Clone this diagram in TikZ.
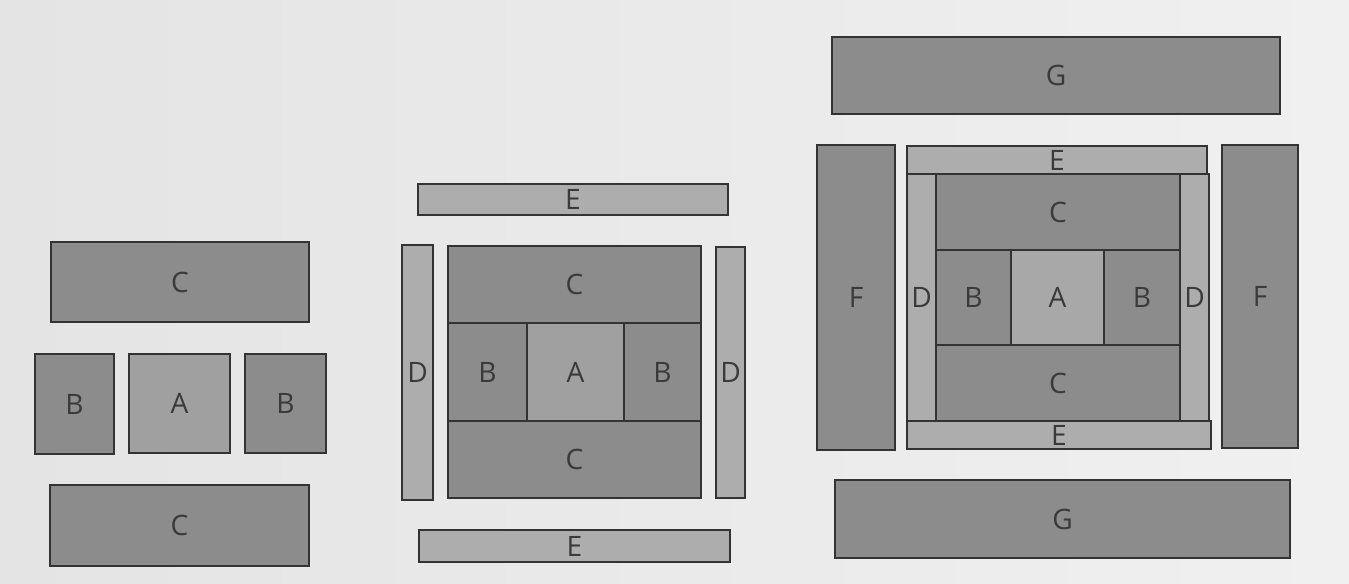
\documentclass[tikz,border=0pt]{standalone}
\usepackage{fontspec}
\setmainfont{Open Sans}
\usepackage{tikz}

\definecolor{paper}{HTML}{E4E4E4}
\definecolor{paperlight}{HTML}{F0F0F0}
\definecolor{darkpiece}{HTML}{8C8C8C}
\definecolor{midpiece}{HTML}{A0A0A0}
\definecolor{lightpiece}{HTML}{ADADAD}
\definecolor{edge}{HTML}{333333}
\definecolor{letter}{HTML}{3A3A3A}

\tikzset{
  dark/.style={fill=darkpiece, draw=edge, line width=0.6pt},
  mid/.style={fill=midpiece, draw=edge, line width=0.6pt},
  light/.style={fill=lightpiece, draw=edge, line width=0.6pt},
  tag/.style={text=letter, font=\fontsize{16}{16}\selectfont, inner sep=0pt}
}

\begin{document}
\begin{tikzpicture}[x=0.02cm, y=-0.02cm]
	\shade[left color=paper, right color=paperlight] (0,0) rectangle (1349,583);
	\useasboundingbox (0,0) rectangle (1349,583);
	% pieces laid out apart
	\begin{scope}
		\draw[dark] (51,242) rectangle (309,322) node[midway, tag] (c1) {C};
		\draw[dark] (35,354) rectangle (114,454) node[midway, tag] (b1) {B};
		\draw[mid] (129,354) rectangle (230,453) node[midway, tag] (a1) {A};
		\draw[dark] (245,354) rectangle (326,453) node[midway, tag] (b2) {B};
		\draw[dark] (50,485) rectangle (309,566) node[midway, tag] (c2) {C};
	\end{scope}
	% centre sewn, first border apart
	\begin{scope}
		\draw[light] (418,184) rectangle (728,215) node[midway, tag] (e1) {E};
		\draw[light] (402,245) rectangle (433,500) node[midway, tag] (d1) {D};
		\draw[dark] (448,246) rectangle (701,323) node[midway, tag] (c3) {C};
		\draw[dark] (448,323) rectangle (527,421) node[midway, tag] (b3) {B};
		\draw[mid] (527,323) rectangle (624,421) node[midway, tag] (a2) {A};
		\draw[dark] (624,323) rectangle (701,421) node[midway, tag] (b4) {B};
		\draw[dark] (448,421) rectangle (701,498) node[midway, tag] (c4) {C};
		\draw[light] (716,247) rectangle (745,498) node[midway, tag] (d2) {D};
		\draw[light] (419,530) rectangle (730,562) node[midway, tag] (e2) {E};
	\end{scope}
	% first border sewn, second border apart
	\begin{scope}
		\draw[dark] (832,37) rectangle (1280,114) node[midway, tag] (g1) {G};
		\draw[dark] (817,145) rectangle (895,450) node[midway, tag] (f1) {F};
		\draw[light] (907,146) rectangle (1207,174) node[midway, tag] (e3) {E};
		\draw[light] (907,174) rectangle (936,421) node[midway, tag] (d3) {D};
		\draw[dark] (936,174) rectangle (1180,250) node[midway, tag] (c5) {C};
		\draw[dark] (936,250) rectangle (1011,345) node[midway, tag] (b5) {B};
		\draw[mid, fill=midpiece!40!lightpiece] (1011,250) rectangle (1104,345) node[midway, tag] (a3) {A};
		\draw[dark] (1104,250) rectangle (1180,345) node[midway, tag] (b6) {B};
		\draw[dark] (936,345) rectangle (1180,421) node[midway, tag] (c6) {C};
		\draw[light] (1180,174) rectangle (1209,421) node[midway, tag] (d4) {D};
		\draw[light] (907,421) rectangle (1211,449) node[midway, tag] (e4) {E};
		\draw[dark] (1222,145) rectangle (1298,448) node[midway, tag] (f2) {F};
		\draw[dark] (835,480) rectangle (1290,558) node[midway, tag] (g2) {G};
	\end{scope}
\end{tikzpicture}
\end{document}
